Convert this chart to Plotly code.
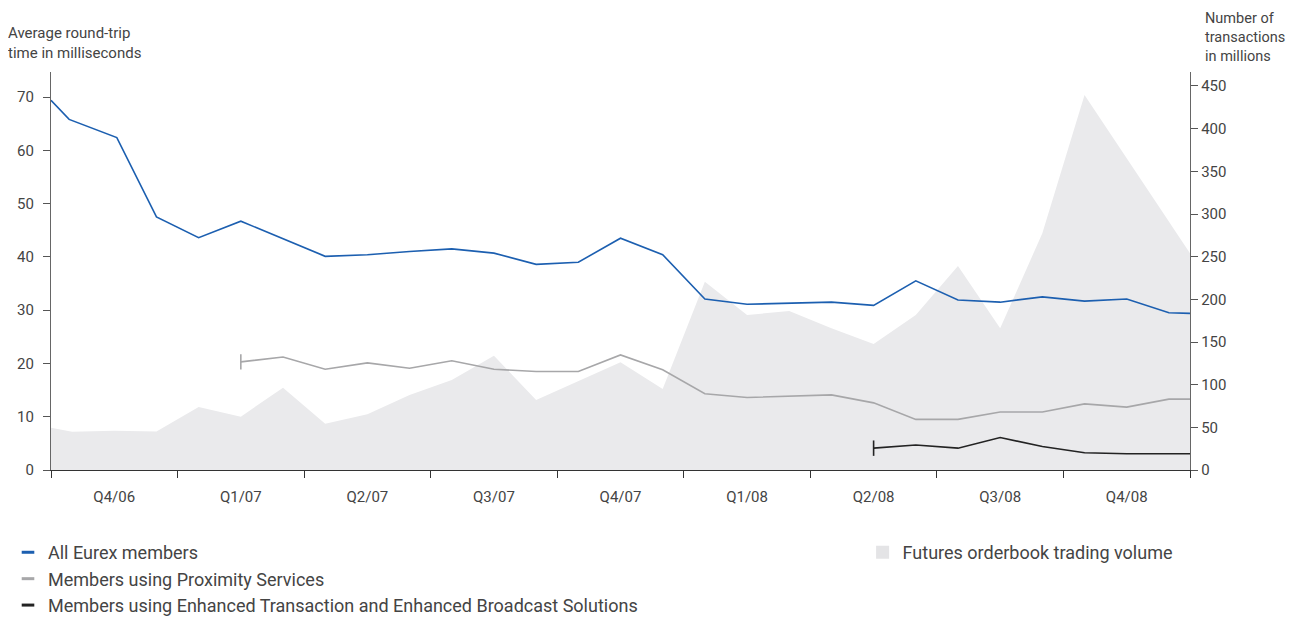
import plotly.graph_objects as go

# ---- data (x in months since start of Q4/06) ----
quarter_labels = ["Q4/06", "Q1/07", "Q2/07", "Q3/07", "Q4/07", "Q1/08", "Q2/08", "Q3/08", "Q4/08"]
quarter_bounds = [0, 3, 6, 9, 12, 15, 18, 21, 24, 27]
quarter_centers = [1.5, 4.5, 7.5, 10.5, 13.5, 16.5, 19.5, 22.5, 25.5]

all_x = [0, 0.43, 1.56, 2.5, 3.5, 4.5, 6.5, 7.5, 8.5, 9.5, 10.5, 11.5, 12.5, 13.5, 14.5,
         15.5, 16.5, 17.5, 18.5, 19.5, 20.5, 21.5, 22.5, 23.5, 24.5, 25.5, 26.5, 27]
all_members = [69.4, 65.8, 62.4, 47.5, 43.6, 46.7, 40.1, 40.4, 41.0, 41.5, 40.7, 38.6, 39.0, 43.5, 40.4,
               32.1, 31.1, 31.3, 31.5, 30.9, 35.5, 31.9, 31.5, 32.5, 31.7, 32.1, 29.5, 29.4]

prox_x = [4.5, 5.5, 6.5, 7.5, 8.5, 9.5, 10.5, 11.5, 12.5, 13.5, 14.5, 15.5, 16.5, 17.5,
          18.5, 19.5, 20.5, 21.5, 22.5, 23.5, 24.5, 25.5, 26.5, 27]
proximity = [20.3, 21.2, 18.9, 20.1, 19.1, 20.5, 18.9, 18.5, 18.5, 21.6, 18.8, 14.3, 13.6, 13.9,
             14.1, 12.6, 9.5, 9.5, 10.9, 10.9, 12.4, 11.8, 13.3, 13.3]

enh_x = [19.5, 20.5, 21.5, 22.5, 23.5, 24.5, 25.5, 26.5, 27]
enhanced = [4.1, 4.7, 4.1, 6.1, 4.4, 3.25, 3.06, 3.06, 3.06]

vol_x = [0, 0.5, 1.5, 2.5, 3.5, 4.5, 5.5, 6.5, 7.5, 8.5, 9.5, 10.5, 11.5, 12.5, 13.5, 14.5,
         15.5, 16.5, 17.5, 18.5, 19.5, 20.5, 21.5, 22.5, 23.5, 24.5, 25.5, 26.5, 27]
volume = [49.6, 44.9, 46, 45, 73.8, 62.5, 96.5, 54.3, 65.2, 87.9, 105.5, 134, 82, 104, 126.2, 95,
          220.7, 181.6, 186.3, 166, 147.7, 181.6, 239, 166, 277.4, 439.5, 365, 292, 254]

names = ["All Eurex members", "Members using Proximity Services",
         "Members using Enhanced Transaction and Enhanced Broadcast Solutions",
         "Futures orderbook trading volume"]

BLUE = "#1c5fb0"
GREY = "#a7a7a9"
BLACK = "#232323"
AREA = "#eaeaec"
TXT = "#444444"
FONT = "Roboto"

fig = go.Figure()

# area on primary axis (right side), lines on overlaying axis (left side) so lines draw on top
fig.add_trace(go.Scatter(x=vol_x, y=volume, yaxis="y", mode="lines", fill="tozeroy",
                         fillcolor=AREA, line=dict(width=0, color=AREA), showlegend=False,
                         hoverinfo="skip"))

fig.add_trace(go.Scatter(x=all_x, y=all_members, yaxis="y2", mode="lines",
                         line=dict(color=BLUE, width=1.6), showlegend=False))
fig.add_trace(go.Scatter(x=prox_x, y=proximity, yaxis="y2", mode="lines",
                         line=dict(color=GREY, width=1.6), showlegend=False))
fig.add_trace(go.Scatter(x=prox_x[:1], y=proximity[:1], yaxis="y2", mode="markers",
                         marker=dict(symbol="line-ns-open", size=11, color=GREY,
                                     line=dict(color=GREY, width=1.6)),
                         showlegend=False))
fig.add_trace(go.Scatter(x=enh_x, y=enhanced, yaxis="y2", mode="lines",
                         line=dict(color=BLACK, width=1.6), showlegend=False))
fig.add_trace(go.Scatter(x=enh_x[:1], y=enhanced[:1], yaxis="y2", mode="markers",
                         marker=dict(symbol="line-ns-open", size=11, color=BLACK,
                                     line=dict(color=BLACK, width=1.6)),
                         showlegend=False))

# legend entries
for nm, col in zip(names[:3], [BLUE, GREY, BLACK]):
    fig.add_trace(go.Scatter(x=[None], y=[None], yaxis="y2", mode="markers", name=nm, legend="legend",
                             marker=dict(symbol="line-ew-open", size=9, color=col,
                                         line=dict(color=col, width=3))))
fig.add_trace(go.Scatter(x=[None], y=[None], mode="markers", name=names[3], legend="legend2",
                         marker=dict(symbol="square", size=13, color="#e4e4e6", line=dict(width=0))))

W, H = 1289, 611  # page body adds an 8px offset

fig.update_layout(
    width=W, height=H,
    margin=dict(l=43, r=107, t=64, b=149, autoexpand=False),
    paper_bgcolor="white", plot_bgcolor="white",
    font=dict(family=FONT, size=15, color=TXT),
    xaxis=dict(range=[0, 27], showgrid=False, zeroline=False,
               showline=True, linecolor="#333333", linewidth=1.3,
               tickvals=quarter_centers, ticktext=quarter_labels,
               ticks="outside", ticklen=13, tickcolor="rgba(0,0,0,0)",
               tickfont=dict(size=15, color=TXT),
               minor=dict(tickvals=quarter_bounds, ticks="outside", ticklen=7,
                          tickcolor="#333333", tickwidth=1.3, showgrid=False)),
    yaxis=dict(range=[0, 466.4], side="right", showgrid=False, zeroline=False,
               showline=True, linecolor="#666666", linewidth=1.3,
               tickvals=[0, 50, 100, 150, 200, 250, 300, 350, 400, 450],
               ticks="outside", ticklen=7, tickcolor="#555555", tickwidth=1,
               tickfont=dict(size=15, color=TXT)),
    yaxis2=dict(range=[0, 74.7], overlaying="y", side="left", showgrid=False, zeroline=False,
                showline=True, linecolor="#666666", linewidth=1.3,
                tickvals=[0, 10, 20, 30, 40, 50, 60, 70],
                ticks="outside", ticklen=7, tickcolor="#555555", tickwidth=1,
                ticklabelstandoff=6,
                tickfont=dict(size=15, color=TXT)),
    legend=dict(xref="container", yref="container", x=0.0, xanchor="left", y=0.139, yanchor="top",
                orientation="v", font=dict(size=18, color=TXT), bgcolor="rgba(0,0,0,0)",
                tracegroupgap=0),
    legend2=dict(xref="container", yref="container", x=0.663, xanchor="left", y=0.139, yanchor="top",
                 orientation="v", font=dict(size=18, color=TXT), bgcolor="rgba(0,0,0,0)"),
    showlegend=True,
)

fig.add_annotation(xref="paper", yref="paper", x=-0.0395, y=1.0, xanchor="left", yanchor="bottom",
                   yshift=8, align="left", showarrow=False,
                   text="Average round-trip<br>time in milliseconds",
                   font=dict(size=15, color=TXT))
fig.add_annotation(xref="paper", yref="paper", x=1.0, y=1.0, xanchor="left", yanchor="bottom",
                   xshift=13, yshift=5, align="left", showarrow=False,
                   text="Number of<br>transactions<br>in millions",
                   font=dict(size=14.5, color=TXT))

fig.write_html("out.html")
